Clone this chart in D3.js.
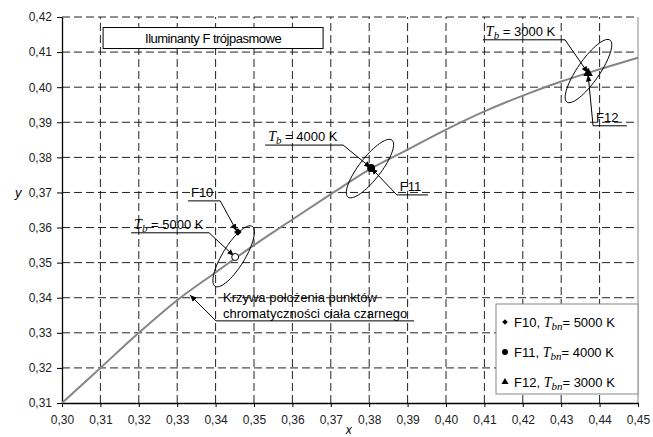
<!DOCTYPE html>
<html>
<head>
<meta charset="utf-8">
<script src="https://cdn.jsdelivr.net/npm/d3@7"></script>
<style>
  body { margin: 0; background: #fff; }
  text { font-family: "Liberation Sans", Arial, sans-serif; }
</style>
</head>
<body>
<div id="chart"></div>
<script>
// krzywa ciala czarnego
var locusX = [0.30, 0.31, 0.32, 0.33, 0.34, 0.35, 0.36, 0.37, 0.38, 0.39, 0.40, 0.41, 0.42, 0.43, 0.44, 0.45];
var locusY = [0.3100, 0.3200, 0.3300, 0.3393, 0.3472, 0.3550, 0.3623, 0.3695, 0.3765, 0.3822, 0.3879, 0.3931, 0.3976, 0.4016, 0.4051, 0.4084];

// iluminanty F
var lamps = ["F10", "F11", "F12"];
var lampX = [0.3458, 0.3805, 0.4370];
var lampY = [0.3587, 0.3770, 0.4040];
var lampTbn = [5000, 4000, 3000];

// punkt ciala czarnego 5000 K
var bbX = 0.3451, bbY = 0.3516;

// elipsy (srodek, polosie jako wektory we wspolrzednych x,y)
var ellCx = [0.3447, 0.3802, 0.4371];
var ellCy = [0.3518, 0.3768, 0.4046];
var ellMajX = [0.00482, 0.00573, 0.00560];
var ellMajY = [0.00855, 0.00812, 0.00883];
var ellMinX = [0.00244, 0.00227, 0.00234];
var ellMinY = [-0.00165, -0.00191, -0.00180];

var xTicks = d3.range(0, 16).map(i => +(0.30 + i * 0.01).toFixed(2));
var yTicks = d3.range(0, 12).map(i => +(0.31 + i * 0.01).toFixed(2));

var width = 653, height = 437;
var margin = {top: 17, right: 15, bottom: 34, left: 62};

var svg = d3.select("#chart").append("svg")
    .attr("width", width)
    .attr("height", height);

var x = d3.scaleLinear().domain([0.30, 0.45]).range([margin.left, width - margin.right]);
var y = d3.scaleLinear().domain([0.31, 0.42]).range([height - margin.bottom, margin.top]);

var fmt = d => d.toFixed(2).replace(".", ",");

// strzalki
svg.append("defs").append("marker")
    .attr("id", "arrow")
    .attr("viewBox", "0 0 10 10")
    .attr("refX", 10).attr("refY", 5)
    .attr("markerWidth", 7).attr("markerHeight", 7)
    .attr("markerUnits", "userSpaceOnUse")
    .attr("orient", "auto")
    .append("path")
    .attr("d", "M0,1 L10,5 L0,9 Z")
    .attr("fill", "#000");

// siatka
svg.append("g").selectAll("line")
    .data(yTicks.slice(1))
    .enter().append("line")
    .attr("x1", x(0.30)).attr("x2", x(0.45))
    .attr("y1", d => y(d)).attr("y2", d => y(d))
    .attr("stroke", "#222").attr("stroke-width", 1)
    .attr("stroke-dasharray", "8,4");

svg.append("g").selectAll("line")
    .data(xTicks.slice(1, -1))
    .enter().append("line")
    .attr("x1", d => x(d)).attr("x2", d => x(d))
    .attr("y1", y(0.31)).attr("y2", y(0.42))
    .attr("stroke", "#222").attr("stroke-width", 1)
    .attr("stroke-dasharray", "8,4");

// prawa krawedz
svg.append("line")
    .attr("x1", x(0.45)).attr("x2", x(0.45))
    .attr("y1", y(0.31)).attr("y2", y(0.42))
    .attr("stroke", "#888").attr("stroke-width", 1);

// osie
var xAxis = svg.append("g")
    .attr("transform", "translate(0," + y(0.31) + ")")
    .call(d3.axisBottom(x).tickValues(xTicks).tickSize(4).tickSizeOuter(0).tickFormat(fmt));
var yAxis = svg.append("g")
    .attr("transform", "translate(" + x(0.30) + ",0)")
    .call(d3.axisLeft(y).tickValues(yTicks).tickSize(5).tickSizeOuter(0).tickFormat(fmt));

[xAxis, yAxis].forEach(function(a) {
    a.select(".domain").attr("stroke", "#000").attr("stroke-width", 1.3);
    a.selectAll(".tick line").attr("stroke", "#000");
    a.attr("font-family", null).attr("font-size", null);
    a.selectAll("text")
        .attr("font-family", "'Liberation Sans', Arial, sans-serif")
        .attr("font-size", 12)
        .attr("fill", "#222");
});
xAxis.selectAll("text").attr("y", 12);
yAxis.selectAll("text").attr("x", -10);

// etykiety osi
svg.append("text")
    .attr("x", 15).attr("y", 197)
    .attr("font-family", "'Liberation Serif', 'Times New Roman', serif")
    .attr("font-style", "italic").attr("font-size", 13)
    .text("y");
svg.append("text")
    .attr("x", x(0.3747)).attr("y", 434)
    .attr("text-anchor", "middle")
    .attr("font-family", "'Liberation Serif', 'Times New Roman', serif")
    .attr("font-style", "italic").attr("font-size", 12)
    .text("x");

// krzywa
var line = d3.line()
    .x(d => x(d[0]))
    .y(d => y(d[1]))
    .curve(d3.curveMonotoneX);

svg.append("path")
    .datum(d3.zip(locusX, locusY))
    .attr("d", line)
    .attr("fill", "none")
    .attr("stroke", "#858585")
    .attr("stroke-width", 2);

// elipsy
var ellLine = d3.line().x(d => x(d[0])).y(d => y(d[1])).curve(d3.curveLinearClosed);
lamps.forEach(function(l, i) {
    var pts = d3.range(0, 72).map(function(k) {
        var t = k / 72 * 2 * Math.PI;
        return [ellCx[i] + ellMajX[i] * Math.cos(t) + ellMinX[i] * Math.sin(t),
                ellCy[i] + ellMajY[i] * Math.cos(t) + ellMinY[i] * Math.sin(t)];
    });
    svg.append("path")
        .attr("d", ellLine(pts))
        .attr("fill", "none")
        .attr("stroke", "#000")
        .attr("stroke-width", 1);
});

function tbLabel(sel, tbn, sub, eq) {
    sel.append("tspan")
        .attr("font-family", "'Liberation Serif', 'Times New Roman', serif")
        .attr("font-style", "italic").attr("font-size", 14)
        .text("T");
    sel.append("tspan")
        .attr("font-family", "'Liberation Serif', 'Times New Roman', serif")
        .attr("font-style", "italic").attr("font-size", 11)
        .attr("dy", 3)
        .text(sub);
    sel.append("tspan")
        .attr("dy", -3)
        .text(eq + tbn + "\u00a0K");
}

// opisy z odnosnikami
var notes = [
    {x0: 0.3529, x1: 0.3732, yl: 0.3835, tx: lampX[1], ty: lampY[1], from: "right", tb: 4000},
    {x0: 0.3872, x1: 0.3953, yl: 0.3693, tx: lampX[1], ty: lampY[1], from: "left", label: "F11"},
    {x0: 0.4096, x1: 0.4310, yl: 0.4135, tx: lampX[2], ty: lampY[2], from: "right", tb: 3000},
    {x0: 0.4383, x1: 0.4471, yl: 0.3890, tx: lampX[2], ty: lampY[2] - 0.0004, from: "left", label: "F12"},
    {x0: 0.3328, x1: 0.3412, yl: 0.3676, tx: lampX[0] - 0.0003, ty: lampY[0] + 0.0003, from: "right", label: "F10"},
    {x0: 0.3180, x1: 0.3383, yl: 0.3585, tx: bbX - 0.0003, ty: bbY + 0.0003, from: "right", tb: 5000}
];

notes.forEach(function(n) {
    var g = svg.append("g");
    g.append("line")
        .attr("x1", x(n.x0)).attr("x2", x(n.x1))
        .attr("y1", y(n.yl)).attr("y2", y(n.yl))
        .attr("stroke", "#000");
    var sx = n.from == "right" ? x(n.x1) : x(n.x0);
    g.append("line")
        .attr("x1", sx).attr("y1", y(n.yl))
        .attr("x2", x(n.tx)).attr("y2", y(n.ty))
        .attr("stroke", "#000")
        .attr("marker-end", "url(#arrow)");
    var t = g.append("text")
        .attr("x", x(n.x0) + 3).attr("y", y(n.yl) - 4)
        .attr("font-size", 13);
    if (n.tb) tbLabel(t, n.tb, "b", "\u00a0=\u00a0");
    else t.text(n.label);
});

// opis krzywej
var kx0 = 0.3401, kx1 = 0.3917, ky = 0.3334;
svg.append("line")
    .attr("x1", x(kx0)).attr("x2", x(kx1))
    .attr("y1", y(ky)).attr("y2", y(ky))
    .attr("stroke", "#000");
svg.append("line")
    .attr("x1", x(kx0)).attr("y1", y(ky))
    .attr("x2", x(0.3333)).attr("y2", y(0.3408))
    .attr("stroke", "#000")
    .attr("marker-end", "url(#arrow)");
svg.append("text")
    .attr("x", x(kx0) + 7).attr("y", y(ky) - 19)
    .attr("font-size", 13)
    .text("Krzywa położenia punktów");
svg.append("text")
    .attr("x", x(kx0) + 7).attr("y", y(ky) - 3)
    .attr("font-size", 13)
    .text("chromatyczności ciała czarnego");

// punkty
var symbols = [d3.symbolDiamond2, d3.symbolCircle, d3.symbolTriangle];
var sizes = [36, 50, 40];
lamps.forEach(function(l, i) {
    svg.append("path")
        .attr("transform", "translate(" + x(lampX[i]) + "," + y(lampY[i]) + ")")
        .attr("d", d3.symbol().type(symbols[i]).size(sizes[i]))
        .attr("fill", "#000");
});
svg.append("circle")
    .attr("cx", x(bbX)).attr("cy", y(bbY))
    .attr("r", 3.5)
    .attr("fill", "#fff")
    .attr("stroke", "#000");

// tytul
svg.append("rect")
    .attr("x", x(0.3107)).attr("y", y(0.4170))
    .attr("width", 220).attr("height", 21)
    .attr("fill", "#fff")
    .attr("stroke", "#000");
svg.append("text")
    .attr("x", x(0.3107) + 110).attr("y", y(0.4170) + 15)
    .attr("text-anchor", "middle")
    .attr("font-size", 13)
    .attr("letter-spacing", -0.5)
    .text("Iluminanty F trójpasmowe");

// legenda
var legend = svg.append("g");
legend.append("rect")
    .attr("x", 496).attr("y", 304)
    .attr("width", 142).attr("height", 90)
    .attr("fill", "#fff")
    .attr("stroke", "#888");
lamps.forEach(function(l, i) {
    var ly = 322 + i * 30;
    legend.append("path")
        .attr("transform", "translate(505," + ly + ")")
        .attr("d", d3.symbol().type(symbols[i]).size(sizes[i] * 0.55))
        .attr("fill", "#000");
    var t = legend.append("text")
        .attr("x", 514).attr("y", ly + 5)
        .attr("font-size", 13);
    t.append("tspan").text(l + ",\u00a0");
    tbLabel(t, lampTbn[i], "bn", "=\u00a0");
});
</script>
</body>
</html>
